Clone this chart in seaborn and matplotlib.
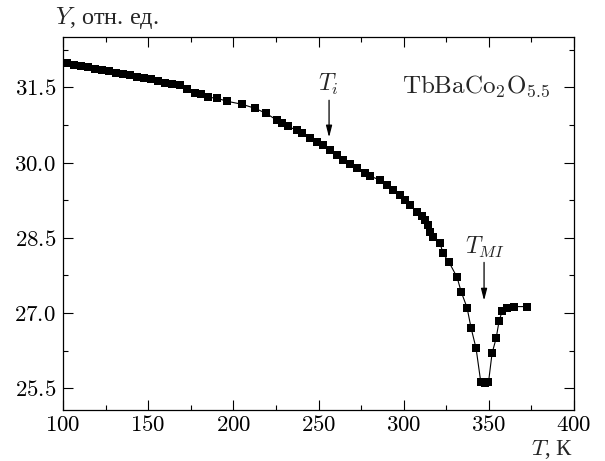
import matplotlib
matplotlib.use("Agg")
import matplotlib.pyplot as plt
from matplotlib.ticker import MultipleLocator, FixedLocator
import seaborn as sns
import pandas as pd

# ---- data ----
temperature_K = [
    102.3, 106.5, 110.6, 114.7, 118.8, 122.9, 127.0, 131.1, 135.2, 139.3, 143.4, 147.5,
    151.7, 155.8, 159.9, 164.0, 168.7, 172.8, 177.5, 181.0, 185.1, 190.4, 196.3, 205.1,
    212.7, 219.2, 225.7, 228.6, 232.1, 237.4, 240.3, 245.0, 249.1, 252.7, 256.8, 260.9,
    264.4, 268.5, 272.6, 277.3, 280.3, 286.1, 290.3, 293.8, 297.9, 300.8, 303.8, 307.9,
    310.5, 312.6, 314.3, 315.5, 317.3, 321.4, 323.1, 326.7, 331.4, 333.7, 337.2, 339.6,
    342.5, 345.3, 347.6, 349.8, 351.9, 354.3, 356.0, 357.8, 360.7, 364.8, 372.5,
]
signal_Y = [
    31.98, 31.95, 31.92, 31.90, 31.87, 31.85, 31.82, 31.79, 31.77, 31.74, 31.71, 31.69,
    31.66, 31.63, 31.59, 31.56, 31.54, 31.46, 31.38, 31.36, 31.30, 31.28, 31.22, 31.16,
    31.08, 30.98, 30.84, 30.78, 30.72, 30.64, 30.58, 30.48, 30.40, 30.34, 30.24, 30.14,
    30.04, 29.98, 29.89, 29.79, 29.73, 29.65, 29.55, 29.45, 29.35, 29.25, 29.15, 29.02,
    28.93, 28.85, 28.75, 28.62, 28.51, 28.39, 28.19, 28.01, 27.71, 27.43, 27.11, 26.70,
    26.30, 25.62, 25.60, 25.62, 26.20, 26.50, 26.84, 27.04, 27.10, 27.13, 27.13,
]
x_ticks = [100, 150, 200, 250, 300, 350, 400]
x_tick_labels = ["100", "150", "200", "250", "300", "350", "400"]
y_ticks = [25.5, 27.0, 28.5, 30.0, 31.5]
y_tick_labels = ["25.5", "27.0", "28.5", "30.0", "31.5"]
T_i = 256.2
T_MI = 347.2

df = pd.DataFrame({"T": temperature_K, "Y": signal_Y})

sns.set_style("ticks")
plt.rcParams["font.family"] = ["Liberation Serif", "DejaVu Serif"]
plt.rcParams["mathtext.fontset"] = "cm"

fig = plt.figure(figsize=(6.05, 4.61), dpi=100)
ax = fig.add_axes([63 / 605, 1 - 410 / 461, (574 - 63) / 605, (410 - 37) / 461])

sns.lineplot(data=df, x="T", y="Y", ax=ax, sort=False, estimator=None,
             color="black", linewidth=0.8, marker="s", markersize=6.4,
             markeredgewidth=0, markerfacecolor="black")

ax.set_xlim(100, 400)
ax.set_ylim(25.07, 32.5)
ax.xaxis.set_major_locator(FixedLocator(x_ticks))
ax.set_xticklabels(["$" + s + "$" for s in x_tick_labels])
ax.xaxis.set_minor_locator(MultipleLocator(25))
ax.yaxis.set_major_locator(FixedLocator(y_ticks))
ax.set_yticklabels(["$" + s + "$" for s in y_tick_labels])
ax.yaxis.set_minor_locator(MultipleLocator(0.75))
ax.tick_params(which="both", direction="in", top=True, right=True, width=0.8,
               labelsize=16.5, colors="black")
ax.tick_params(which="major", length=7, pad=5)
ax.tick_params(axis="x", which="major", pad=3.5)
ax.tick_params(which="minor", length=3.5)
for s in ax.spines.values():
    s.set_linewidth(0.9)
    s.set_color("black")
ax.set_xlabel("")
ax.set_ylabel("")

fig.text(55 / 605, 1 - 24 / 461, "$Y$, отн. ед.", fontsize=17.5, ha="left", va="baseline")
fig.text(573 / 605, 1 - 455 / 461, "$T$, К", fontsize=16.5, ha="right", va="baseline")

ax.text(299, 31.40, r"$\mathrm{TbBaCo_2O_{5.5}}$", fontsize=18, ha="left", va="baseline")

ax.annotate("", xy=(T_i, 30.50), xytext=(T_i, 31.24),
            arrowprops=dict(arrowstyle="-|>,head_width=0.18,head_length=0.7",
                            color="black", lw=0.9, shrinkA=0, shrinkB=0))
ax.text(T_i - 0.5, 31.55, "$T_i$", fontsize=17, ha="center", va="center")

ax.annotate("", xy=(T_MI, 27.25), xytext=(T_MI, 28.01),
            arrowprops=dict(arrowstyle="-|>,head_width=0.18,head_length=0.7",
                            color="black", lw=0.9, shrinkA=0, shrinkB=0))
ax.text(T_MI + 0.6, 28.31, "$T_{MI}$", fontsize=17, ha="center", va="center")

fig.savefig("out.png", dpi=100)
